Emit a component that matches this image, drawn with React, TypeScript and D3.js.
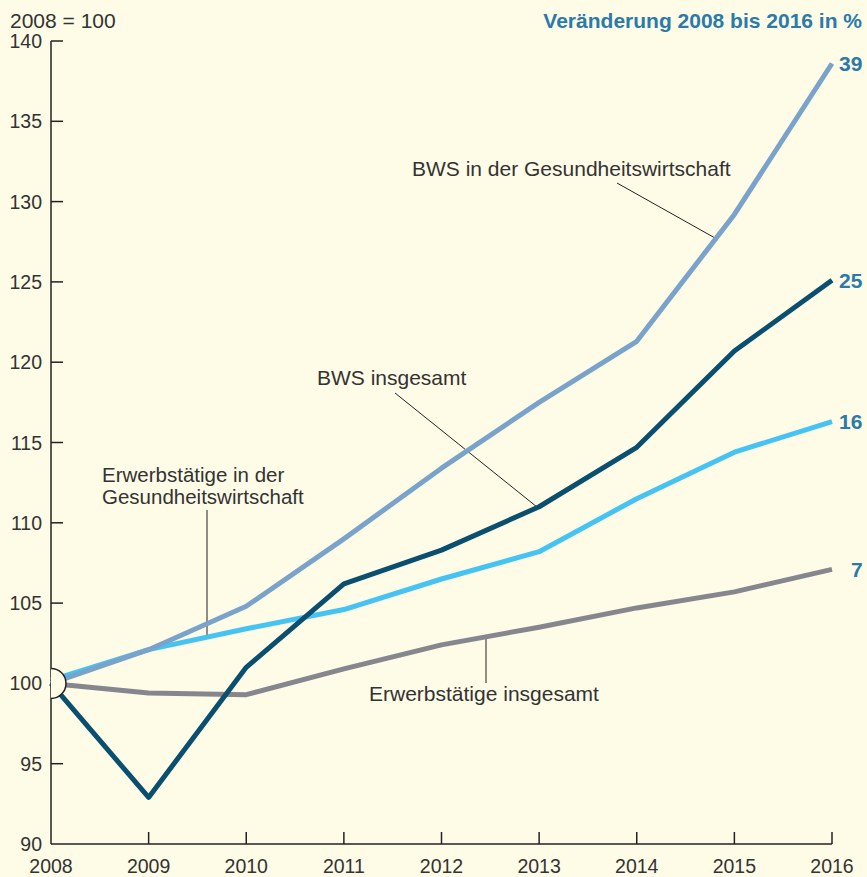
import React from "react";
import * as d3 from "d3";

const years = [2008, 2009, 2010, 2011, 2012, 2013, 2014, 2015, 2016];
const bwsGesundheit = [100, 102.1, 104.8, 109.0, 113.4, 117.5, 121.3, 129.2, 138.6];
const bwsInsgesamt = [100, 92.9, 101.0, 106.2, 108.3, 111.0, 114.7, 120.7, 125.1];
const erwGesundheit = [100.2, 102.1, 103.4, 104.6, 106.5, 108.2, 111.5, 114.4, 116.3];
const erwInsgesamt = [100, 99.4, 99.3, 100.9, 102.4, 103.5, 104.7, 105.7, 107.1];
const changeLabels = ["39", "25", "16", "7"];
const yTicks = [90, 95, 100, 105, 110, 115, 120, 125, 130, 135, 140];

const W = 867, H = 877;
const BG = "#fefbe6";
const BLUE_TEXT = "#2a7aaa";
const TEXT = "#333";
const FONT = "'Liberation Sans', Arial, sans-serif";

export default function App() {
  const x = d3.scaleLinear().domain([2008, 2016]).range([51, 832]);
  const y = d3.scaleLinear().domain([90, 140]).range([844, 41]);
  const line = d3.line<number>().x((_, i) => x(years[i])).y((d) => y(d));

  const series = [
    { data: erwInsgesamt, color: "#86868f", label: changeLabels[3] },
    { data: erwGesundheit, color: "#45c3f2", label: changeLabels[2] },
    { data: bwsGesundheit, color: "#7aa3cb", label: changeLabels[0] },
    { data: bwsInsgesamt, color: "#0b4f70", label: changeLabels[1] },
  ];

  return (
    <svg width={W} height={H} style={{ display: "block", position: "absolute", left: 0, top: 0 }} fontFamily={FONT}>
      <rect width={W} height={H} fill={BG} />
      <text x={10} y={28} fontSize={21} fill={TEXT}>2008 = 100</text>
      <text x={862} y={28} fontSize={21} fontWeight="bold" fill={BLUE_TEXT} textAnchor="end">
        Veränderung 2008 bis 2016 in %
      </text>

      {/* axes */}
      <line x1={x(2008)} x2={x(2008)} y1={y(140)} y2={y(90)} stroke="#222" strokeWidth={1.5} />
      <line x1={x(2008)} x2={x(2016)} y1={y(90)} y2={y(90)} stroke="#222" strokeWidth={1.5} />
      {yTicks.map((t) => (
        <g key={t}>
          {t !== 90 && <line x1={x(2008)} x2={x(2008) + 12} y1={y(t)} y2={y(t)} stroke="#222" strokeWidth={1.5} />}
          <text x={42} y={y(t)} dy="0.36em" fontSize={19.5} fill={TEXT} textAnchor="end">{t}</text>
        </g>
      ))}
      {years.map((yr) => (
        <g key={yr}>
          {yr !== 2008 && <line x1={x(yr)} x2={x(yr)} y1={y(90)} y2={y(90) - 12} stroke="#222" strokeWidth={1.5} />}
          <text x={x(yr)} y={873} fontSize={19.5} fill={TEXT} textAnchor="middle">{yr}</text>
        </g>
      ))}

      {/* leader lines */}
      <line x1={617} y1={183} x2={715} y2={238} stroke="#222" strokeWidth={1} />
      <line x1={395} y1={393} x2={537} y2={507} stroke="#222" strokeWidth={1} />
      <line x1={207} y1={510} x2={207} y2={637} stroke="#222" strokeWidth={1} />
      <line x1={486} y1={638} x2={486} y2={683} stroke="#222" strokeWidth={1} />

      {series.map((s, i) => (
        <g key={i}>
          <path d={line(s.data) || ""} fill="none" stroke={s.color} strokeWidth={5} strokeLinejoin="round" />
          <text x={s.label.length === 1 ? 851 : 839} y={y(s.data[s.data.length - 1])} dy="0.36em" fontSize={21} fontWeight="bold" fill={BLUE_TEXT}>
            {s.label}
          </text>
        </g>
      ))}

      {/* base marker */}
      <path d={`M${x(2008)},${y(100) - 15} A15,15 0 0 1 ${x(2008)},${y(100) + 15}`} fill={BG} stroke="#222" strokeWidth={1.5} />

      {/* labels */}
      <text x={412} y={176} fontSize={21} fill={TEXT}>BWS in der Gesundheitswirtschaft</text>
      <text x={317} y={385} fontSize={21} fill={TEXT}>BWS insgesamt</text>
      <text x={102} y={482} fontSize={20.5} fill={TEXT}>Erwerbstätige in der</text>
      <text x={102} y={504} fontSize={20.5} fill={TEXT}>Gesundheitswirtschaft</text>
      <text x={369} y={701} fontSize={21} fill={TEXT}>Erwerbstätige insgesamt</text>
    </svg>
  );
}
